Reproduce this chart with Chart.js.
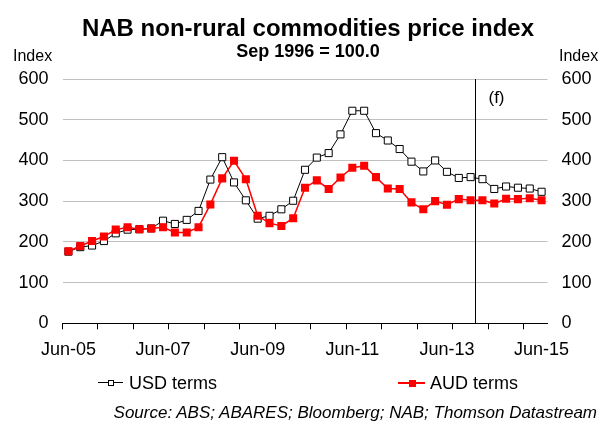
<!DOCTYPE html>
<html>
<head>
<meta charset="utf-8">
<script src="https://cdn.jsdelivr.net/npm/chart.js@4"></script>
<style>
  html, body { margin: 0; padding: 0; background: #fff; }
  #wrap { position: relative; width: 602px; height: 422px; font-family: "Liberation Sans", Arial, sans-serif; color: #000; }
  #wrap canvas { position: absolute; left: 0; top: 0; }
  .txt { position: absolute; white-space: nowrap; }
  .sample { position: absolute; }
</style>
</head>
<body>
<div id="wrap">
  <canvas id="chart" width="602" height="422"></canvas>
  <div class="txt" style="left:0;width:616px;text-align:center;top:16px;font-size:24px;line-height:24px;font-weight:bold;">NAB non-rural commodities price index</div>
  <div class="txt" style="left:0;width:616px;text-align:center;top:42px;font-size:18px;line-height:18px;font-weight:bold;">Sep 1996 = 100.0</div>
  <div class="txt" style="left:13px;top:48px;font-size:16px;line-height:16px;">Index</div>
  <div class="txt" style="left:559px;top:48px;font-size:16px;line-height:16px;">Index</div>

  <!-- legend -->
  <div class="sample" style="left:98px;top:382px;width:25px;height:1px;background:#000;"></div>
  <div class="sample" style="left:108px;top:380px;width:4px;height:4px;border:1px solid #000;background:#fff;"></div>
  <div class="txt" style="left:129px;top:374px;font-size:18px;line-height:18px;">USD terms</div>
  <div class="sample" style="left:398px;top:382px;width:27px;height:2px;background:#ff0000;"></div>
  <div class="sample" style="left:409px;top:380px;width:7px;height:7px;background:#ff0000;"></div>
  <div class="txt" style="left:430px;top:374px;font-size:18px;line-height:18px;">AUD terms</div>

  <div class="txt" style="right:5px;top:404px;font-size:17px;line-height:17px;font-style:italic;">Source: ABS; ABARES; Bloomberg; NAB; Thomson Datastream</div>
</div>
<script>
// quarterly, Jun-05 to Jun-15
const quarters = [
  'Jun-05','Sep-05','Dec-05','Mar-06','Jun-06','Sep-06','Dec-06','Mar-07',
  'Jun-07','Sep-07','Dec-07','Mar-08','Jun-08','Sep-08','Dec-08','Mar-09',
  'Jun-09','Sep-09','Dec-09','Mar-10','Jun-10','Sep-10','Dec-10','Mar-11',
  'Jun-11','Sep-11','Dec-11','Mar-12','Jun-12','Sep-12','Dec-12','Mar-13',
  'Jun-13','Sep-13','Dec-13','Mar-14','Jun-14','Sep-14','Dec-14','Mar-15',
  'Jun-15'
];
const usdTerms = [
  176, 187, 191, 202, 221, 230, 231, 233,
  252, 244, 254, 276, 353, 408, 346, 302,
  257, 264, 280, 301, 377, 407, 418, 464,
  522, 522, 467, 449, 428, 397, 373, 400,
  372, 357, 359, 354, 330, 336, 333, 331,
  323
];
const audTerms = [
  177, 190, 202, 213, 230, 236, 231, 233,
  236, 223, 223, 236, 292, 356, 399, 354,
  264, 246, 239, 258, 333, 351, 330, 358,
  382, 387, 359, 331, 330, 297, 280, 300,
  291, 305, 302, 302, 294, 306, 305, 307,
  302
];
const yTicks = [0, 100, 200, 300, 400, 500, 600];
const labelEvery = 8;   // Jun-05, Jun-07, ...
const tickEvery = 3;
const forecastFrom = 34.35; // category position of the forecast divider

const forecastLine = {
  id: 'forecastLine',
  beforeDatasetsDraw(chart) {
    const { ctx, chartArea, scales } = chart;
    const x = Math.round(scales.x.getPixelForValue(forecastFrom)) + 0.5;
    ctx.save();
    ctx.strokeStyle = '#000';
    ctx.lineWidth = 1;
    ctx.beginPath();
    ctx.moveTo(x, chartArea.top);
    ctx.lineTo(x, chartArea.bottom);
    ctx.stroke();
    ctx.fillStyle = '#000';
    ctx.font = '17px "Liberation Sans", Arial, sans-serif';
    ctx.textAlign = 'center';
    ctx.fillText('(f)', x + 21, 103);
    ctx.restore();
  }
};

const tickFont = { family: '"Liberation Sans", Arial, sans-serif', size: 18 };

new Chart(document.getElementById('chart'), {
  type: 'line',
  data: {
    labels: quarters,
    datasets: [
      {
        label: 'USD terms',
        data: usdTerms,
        borderColor: '#000',
        borderWidth: 1,
        pointStyle: 'rect',
        pointRadius: 5,
        pointBackgroundColor: '#fff',
        pointBorderColor: '#000',
        pointBorderWidth: 1,
        tension: 0,
        order: 1
      },
      {
        label: 'AUD terms',
        data: audTerms,
        borderColor: '#ff0000',
        borderWidth: 1.5,
        pointStyle: 'rect',
        pointRadius: 5.7,
        pointBackgroundColor: '#ff0000',
        pointBorderColor: '#ff0000',
        pointBorderWidth: 0,
        tension: 0,
        order: 0
      }
    ]
  },
  options: {
    responsive: false,
    animation: false,
    devicePixelRatio: 1,
    layout: { padding: { left: 0, right: 0, top: 79, bottom: 58.7 } },
    plugins: { legend: { display: false }, tooltip: { enabled: false }, title: { display: false } },
    scales: {
      x: {
        offset: true,
        afterFit(scale) { scale.height = 40; },
        border: { display: true, color: '#000', width: 1 },
        grid: {
          offset: true,
          drawOnChartArea: false,
          drawTicks: true,
          tickLength: 6,
          color: ctx => (ctx.type === 'tick' && ctx.index % tickEvery === 0) ? '#000' : 'rgba(0,0,0,0)'
        },
        ticks: {
          autoSkip: false,
          maxRotation: 0,
          padding: 10,
          color: '#000',
          font: tickFont,
          callback: (v, i) => (i % labelEvery === 0 ? quarters[i] : '')
        }
      },
      y: {
        position: 'left',
        min: 0,
        max: 600,
        afterFit(scale) { scale.width = 62.5; },
        afterBuildTicks(scale) { scale.ticks = yTicks.map(v => ({ value: v })); },
        border: { display: false },
        grid: { color: '#c0c0c0', lineWidth: 1, drawTicks: false },
        ticks: { padding: 14, color: '#000', font: tickFont }
      },
      y2: {
        position: 'right',
        min: 0,
        max: 600,
        afterFit(scale) { scale.width = 54.5; },
        afterBuildTicks(scale) { scale.ticks = yTicks.map(v => ({ value: v })); },
        border: { display: false },
        grid: { display: false, drawTicks: false },
        ticks: { padding: 14, color: '#000', font: tickFont }
      }
    }
  },
  plugins: [forecastLine]
});
</script>
</body>
</html>
